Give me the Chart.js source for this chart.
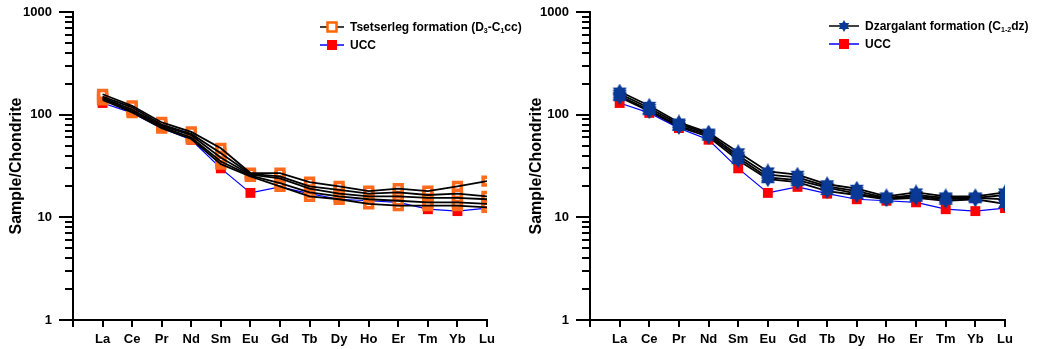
<!DOCTYPE html>
<html>
<head>
<meta charset="utf-8">
<script src="https://cdn.jsdelivr.net/npm/chart.js@4/dist/chart.umd.min.js"></script>
<style>
  body { margin: 0; background: #fff; }
  #wrap { position: relative; width: 1039px; height: 349px; font-family: "Liberation Sans", Arial, sans-serif; }
  .panel { position: absolute; top: 0; width: 519px; height: 349px; }
  .lg { position: absolute; font-weight: bold; font-size: 12px; color: #000; white-space: nowrap; }
  .lg .row { display: flex; align-items: center; height: 18px; }
  .lg svg { margin-right: 6px; }
  .lg sub { font-size: 7px; vertical-align: -2px; }
</style>
</head>
<body>
<div id="wrap">
  <div class="panel" style="left:0"><canvas id="chartA" width="519" height="349"></canvas></div>
  <div class="panel" style="left:520px"><canvas id="chartB" width="519" height="349"></canvas></div>

  <div class="lg" style="left:320px;top:18px">
    <div class="row">
      <svg width="24" height="12"><line x1="0" y1="6" x2="24" y2="6" stroke="#000" stroke-width="1.5"/><rect x="7.5" y="1.5" width="9" height="9" fill="#fff" stroke="#ff6600" stroke-width="2.5"/></svg>
      <span>Tsetserleg formation (D<sub>3</sub>-C<sub>1</sub>cc)</span>
    </div>
    <div class="row">
      <svg width="24" height="12"><line x1="0" y1="6" x2="24" y2="6" stroke="#0000ff" stroke-width="1.5"/><rect x="7" y="1" width="10" height="10" fill="#ff0000"/></svg>
      <span>UCC</span>
    </div>
  </div>

  <div class="lg" style="left:829px;top:17px">
    <div class="row">
      <svg width="30" height="14"><line x1="0" y1="7" x2="30" y2="7" stroke="#000" stroke-width="1.5"/><polygon points="15,1 20.2,10 9.8,10" fill="#0a3a96"/><polygon points="15,13 20.2,4 9.8,4" fill="#0a3a96"/></svg>
      <span>Dzargalant formation (C<sub>1-2</sub>dz)</span>
    </div>
    <div class="row">
      <svg width="30" height="14"><line x1="0" y1="7" x2="30" y2="7" stroke="#0000ff" stroke-width="1.5"/><rect x="10" y="2" width="10" height="10" fill="#ff0000"/></svg>
      <span>UCC</span>
    </div>
  </div>
</div>

<script>
// REE 元素顺序
const elements = ['La', 'Ce', 'Pr', 'Nd', 'Sm', 'Eu', 'Gd', 'Tb', 'Dy', 'Ho', 'Er', 'Tm', 'Yb', 'Lu'];
const yMajor = [1, 10, 100, 1000];

// UCC (球粒陨石标准化)
const ucc = [130, 104, 74, 57, 30, 17.3, 19.8, 17, 15, 14.5, 14, 12, 11.5, 12.3];

// Tsetserleg formation 样品
const tsetserleg1 = [158, 122, 84, 68, 47, 27, 27, 22, 20, 18, 19, 18, 20, 22.5];
const tsetserleg2 = [150, 118, 80, 65, 42, 26.5, 25, 20, 18.5, 17, 17.5, 16.5, 17, 16];
const tsetserleg3 = [146, 112, 78, 63, 38, 26, 24, 19, 17, 16, 16, 15.5, 15.5, 15];
const tsetserleg4 = [142, 108, 76, 60, 35, 25.5, 21.5, 17.5, 16, 15, 14.5, 14, 14, 13.5];
const tsetserleg5 = [139, 105, 74, 58, 33, 25, 20, 16, 15, 13.5, 13, 13, 13, 12.5];

// Dzargalant formation 样品
const dzargalant1 = [168, 122, 84, 67, 43, 28, 26, 21, 19, 16, 17.5, 16, 16, 17.5];
const dzargalant2 = [160, 116, 81, 65, 40, 26, 24.5, 20, 18, 15.5, 16.5, 15.5, 15.5, 16.5];
const dzargalant3 = [153, 111, 78, 63, 38, 24.5, 23, 19.5, 17, 15.3, 16, 15, 15.5, 15];
const dzargalant4 = [148, 108, 76, 61, 36, 23.5, 22, 18, 16.5, 15, 15.5, 14.5, 15, 13.5];

const toPoints = arr => arr.map((v, i) => ({ x: i, y: v }));

// 六角星标记
function makeStar(size, color) {
    const c = document.createElement('canvas');
    c.width = c.height = size;
    const g = c.getContext('2d');
    const r = size / 2;
    g.fillStyle = color;
    [0, Math.PI].forEach(rot => {
        g.beginPath();
        for (let i = 0; i < 3; i++) {
            const a = -Math.PI / 2 + rot + i * 2 * Math.PI / 3;
            const px = r + r * Math.cos(a), py = r + r * Math.sin(a);
            i === 0 ? g.moveTo(px, py) : g.lineTo(px, py);
        }
        g.closePath();
        g.fill();
    });
    return c;
}
const star = makeStar(16, '#0a3a96');

// 手动画刻度线（主刻度长，次刻度短）
const tickMarks = {
    id: 'tickMarks',
    afterDraw(chart) {
        const ctx = chart.ctx;
        const xs = chart.scales.x, ys = chart.scales.y;
        ctx.save();
        ctx.strokeStyle = '#000';
        ctx.lineWidth = 2;
        ys.ticks.forEach(t => {
            const py = Math.round(ys.getPixelForValue(t.value));
            const len = yMajor.includes(t.value) ? 14 : 8;
            ctx.beginPath();
            ctx.moveTo(ys.right - len, py);
            ctx.lineTo(ys.right, py);
            ctx.stroke();
        });
        xs.ticks.forEach(t => {
            const px = Math.round(xs.getPixelForValue(t.value));
            ctx.beginPath();
            ctx.moveTo(px, xs.top);
            ctx.lineTo(px, xs.top + 7);
            ctx.stroke();
        });
        ctx.restore();
    }
};

function buildOptions(axisWidth, rightPad) {
    return {
        responsive: false,
        devicePixelRatio: 1,
        animation: false,
        layout: { autoPadding: false, padding: { top: 12, right: rightPad, left: 0, bottom: 0 } },
        plugins: { legend: { display: false }, tooltip: { enabled: false } },
        scales: {
            x: {
                type: 'linear',
                min: -1,
                max: 13,
                afterBuildTicks: s => { s.ticks = []; for (let i = -1; i <= 13; i++) s.ticks.push({ value: i }); },
                afterFit: s => { s.height = 29; s.paddingLeft = 0; s.paddingRight = 0; },
                grid: { drawOnChartArea: false, drawTicks: false },
                border: { display: true, color: '#000', width: 2 },
                ticks: {
                    autoSkip: false,
                    maxRotation: 0,
                    padding: 12,
                    color: '#000',
                    font: { family: 'Liberation Sans', weight: 'bold', size: 13 },
                    callback: v => elements[v] || ''
                }
            },
            y: {
                type: 'logarithmic',
                min: 1,
                max: 1000,
                afterBuildTicks: s => {
                    const t = [];
                    for (let e = 0; e < 3; e++) for (let m = 1; m <= 9; m++) t.push({ value: m * Math.pow(10, e) });
                    t.push({ value: 1000 });
                    s.ticks = t;
                },
                afterFit: s => { s.width = axisWidth; s.paddingTop = 0; s.paddingBottom = 0; },
                grid: { drawOnChartArea: false, drawTicks: false },
                border: { display: true, color: '#000', width: 2 },
                title: {
                    display: true,
                    text: 'Sample/Chondrite',
                    color: '#000',
                    padding: { top: 7, bottom: 0 },
                    font: { family: 'Liberation Sans', weight: 'bold', size: 16 }
                },
                ticks: {
                    autoSkip: false,
                    padding: 21,
                    color: '#000',
                    font: { family: 'Liberation Sans', weight: 'bold', size: 13 },
                    callback: v => yMajor.includes(v) ? String(v) : ''
                }
            }
        }
    };
}

const uccSets = [
    { data: toPoints(ucc), showLine: true, borderColor: '#0000ff', borderWidth: 1.2, pointRadius: 0, order: 6 },
    { data: toPoints(ucc), showLine: false, pointStyle: 'rect', pointRadius: 7, pointBackgroundColor: '#ff0000', pointBorderColor: '#ff0000', pointBorderWidth: 0, order: 5 }
];

// 左图：橙色空心方块，黑线在标记之上
const tsetserleg = [tsetserleg1, tsetserleg2, tsetserleg3, tsetserleg4, tsetserleg5];
const leftSets = [];
tsetserleg.forEach(arr => {
    leftSets.push({ data: toPoints(arr), showLine: false, pointStyle: 'rect', pointRadius: 5.5, pointBackgroundColor: '#fff', pointBorderColor: '#ff6a1c', pointBorderWidth: 3.5, order: 3 });
    leftSets.push({ data: toPoints(arr), showLine: true, borderColor: '#000', borderWidth: 1.8, pointRadius: 0, order: 1 });
});

new Chart(document.getElementById('chartA'), {
    type: 'scatter',
    data: { datasets: [...leftSets, ...uccSets] },
    options: buildOptions(73, 32),
    plugins: [tickMarks]
});

// 右图：蓝色六角星
const dzargalant = [dzargalant1, dzargalant2, dzargalant3, dzargalant4];
const rightSets = dzargalant.map(arr => ({
    data: toPoints(arr), showLine: true, borderColor: '#000', borderWidth: 1.8,
    pointStyle: star, pointRadius: 8, order: 1
}));

new Chart(document.getElementById('chartB'), {
    type: 'scatter',
    data: { datasets: [...rightSets, ...uccSets] },
    options: buildOptions(70, 34),
    plugins: [tickMarks]
});
</script>
</body>
</html>
